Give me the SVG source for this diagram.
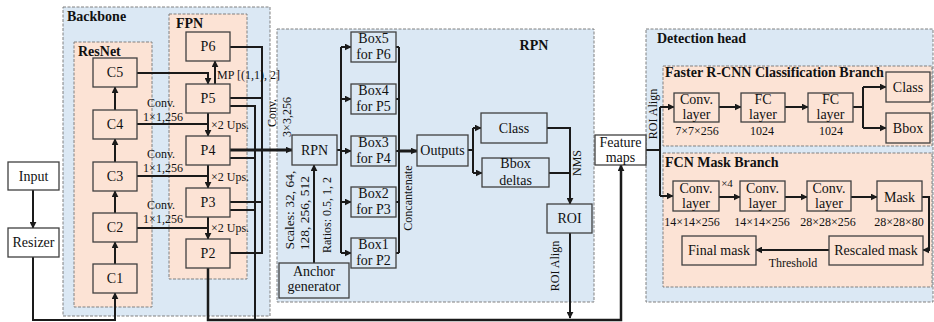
<svg xmlns="http://www.w3.org/2000/svg" width="934" height="322" viewBox="0 0 934 322">
<defs>
<marker id="ah" viewBox="0 0 10 10" refX="9" refY="5" markerWidth="7" markerHeight="7" markerUnits="userSpaceOnUse" orient="auto"><path d="M0,0 L10,5 L0,10 z" fill="#1a1a1a"/></marker>
<style>
.cont{fill:#dbe8f4;stroke:#808080;stroke-width:1;stroke-dasharray:3 1.5}
.pk{fill:#fce3d5;stroke:#808080;stroke-width:1;stroke-dasharray:3 1.5}
.bx{stroke:#404040;stroke-width:1.3}
.pb{fill:#fce3d5}
.bb{fill:#dbe8f4}
.wb{fill:#ffffff}
text{font-family:"Liberation Serif","Times New Roman",serif;fill:#111}
.t14{font-size:14px;text-anchor:middle}
.t12{font-size:12px}
.c12{font-size:12px;text-anchor:middle}
.ttl{font-size:14px;font-weight:bold}
.ln{fill:none;stroke:#1a1a1a;stroke-width:2}
.th{fill:none;stroke:#1a1a1a;stroke-width:3}
.ar{marker-end:url(#ah)}
</style>
</defs>
<g id="containers">
<rect class="cont" x="63" y="7" width="207" height="309"/>
<rect class="pk" x="74" y="42" width="78" height="265"/>
<rect class="pk" x="169" y="14" width="78" height="265"/>
<rect class="cont" x="277" y="29" width="317" height="273"/>
<rect class="cont" x="646" y="29" width="287" height="273"/>
<rect class="pk" x="663" y="66" width="269" height="80"/>
<rect class="pk" x="663" y="153" width="269" height="134"/>
<text class="ttl" x="67" y="21">Backbone</text>
<text class="ttl" x="78" y="56">ResNet</text>
<text class="ttl" x="176" y="28">FPN</text>
<text class="ttl" x="534" y="50" text-anchor="middle">RPN</text>
<text class="ttl" x="657" y="43">Detection head</text>
<text class="ttl" x="665" y="77">Faster R-CNN Classification Branch</text>
<text class="ttl" x="665" y="167">FCN Mask Branch</text>
</g>
<g id="connectors">
<path class="ln ar" d="M33,190 V228"/>
<path class="ln ar" d="M33,257 V320 H115 V293"/>
<path class="ln ar" d="M115,264 V242"/>
<path class="ln ar" d="M115,213 V191"/>
<path class="ln ar" d="M115,162 V139"/>
<path class="ln ar" d="M115,110 V87"/>
<path class="ln ar" d="M137,73 H208 V84"/>
<path class="ln" d="M137,124 H208"/>
<path class="ln ar" d="M208,113 V136"/>
<path class="ln" d="M137,176 H208"/>
<path class="ln ar" d="M208,165 V188"/>
<path class="ln" d="M137,228 H208"/>
<path class="ln ar" d="M208,217 V239"/>
<path class="ln ar" d="M215,84 V61"/>
<path class="ln" d="M230,47 H262 V253 H230"/>
<path class="ln" d="M230,98 H262"/>
<path class="ln" d="M230,202 H262"/>
<path class="ln" d="M230,106 H255 V320"/>
<path class="ln" d="M230,158 H255"/>
<path class="ln" d="M230,210 H255"/>
<path class="th ar" d="M230,150 H292"/>
<path class="ln ar" d="M208,268 V320 H621 V165" style="stroke-width:2.5"/>
<path class="ln ar" d="M314,263 V165"/>
<path class="ln" d="M337,150 H341"/>
<path class="ln" d="M341,47 V253"/>
<path class="ln ar" d="M341,47 H351"/>
<path class="ln ar" d="M341,99 H351"/>
<path class="ln ar" d="M341,151 H351"/>
<path class="ln ar" d="M341,202 H351"/>
<path class="ln ar" d="M341,253 H351"/>
<path class="ln" d="M396,47 H399 M396,99 H399 M396,151 H399 M396,202 H399 M396,253 H399"/>
<path class="ln" d="M399,47 V253"/>
<path class="th ar" d="M399,151 H417"/>
<path class="ln" d="M468,150 H473"/>
<path class="ln" d="M473,128 V173"/>
<path class="ln ar" d="M473,128 H481"/>
<path class="ln ar" d="M473,173 H482"/>
<path class="ln ar" d="M547,128 H570 V204"/>
<path class="ln" d="M549,173 H570"/>
<path class="ln ar" d="M570,233 V318"/>
<path class="ln" d="M646,150 H660"/>
<path class="ln" d="M660,107 V196"/>
<path class="ln ar" d="M660,107 H674"/>
<path class="ln ar" d="M660,196 H673"/>
<path class="ln ar" d="M719,107 H741"/>
<path class="ln ar" d="M785,107 H808"/>
<path class="ln" d="M853,107 H863"/>
<path class="ln" d="M863,87 V128"/>
<path class="ln ar" d="M863,87 H886"/>
<path class="ln ar" d="M863,128 H886"/>
<path class="ln ar" d="M719,197 H740"/>
<path class="ln ar" d="M785,197 H807"/>
<path class="ln ar" d="M851,197 H877"/>
<path class="ln ar" d="M922,197 H929 V250 H923"/>
<path class="ln ar" d="M829,250 H756"/>
</g>
<g id="labels">
<text class="c12" x="161" y="107">Conv.</text>
<text class="c12" x="163" y="121">1×1,256</text>
<text class="c12" x="161" y="158">Conv.</text>
<text class="c12" x="163" y="172">1×1,256</text>
<text class="c12" x="161" y="209">Conv.</text>
<text class="c12" x="163" y="223">1×1,256</text>
<text class="t12" x="211" y="129">×2 Ups.</text>
<text class="t12" x="211" y="181">×2 Ups.</text>
<text class="t12" x="211" y="232">×2 Ups.</text>
<text class="t12" x="217" y="79">MP [(1,1), 2]</text>
<text class="c12" transform="translate(276,113) rotate(-90)">Conv.</text>
<text class="c12" transform="translate(291,117) rotate(-90)">3×3,256</text>
<text class="c12" transform="translate(294,210) rotate(-90)" style="font-size:13.5px">Scales: 32, 64,</text>
<text class="c12" transform="translate(309,213) rotate(-90)" style="font-size:13.5px">128, 256, 512</text>
<text class="c12" transform="translate(331,215) rotate(-90)">Ratios: 0.5, 1, 2</text>
<text class="c12" transform="translate(412,198) rotate(-90)">Concantenate</text>
<text class="c12" transform="translate(581,163) rotate(-90)">NMS</text>
<text class="c12" transform="translate(559,266) rotate(-90)">ROI Align</text>
<text class="c12" transform="translate(657,114) rotate(-90)">ROI Align</text>
<text class="c12" x="697" y="135">7×7×256</text>
<text class="c12" x="762" y="135">1024</text>
<text class="c12" x="831" y="135">1024</text>
<text class="c12" x="692" y="226">14×14×256</text>
<text class="c12" x="762" y="226">14×14×256</text>
<text class="c12" x="828" y="226">28×28×256</text>
<text class="c12" x="899" y="226">28×28×80</text>
<text class="c12" x="727" y="187" style="font-size:11px">×4</text>
<text class="c12" x="793" y="267">Threshold</text>
</g>
<g id="input"><rect class="bx wb" x="8" y="162" width="51" height="28"/><text class="t14" x="33.5" y="181">Input</text></g>
<g id="resizer"><rect class="bx wb" x="8" y="228" width="51" height="29"/><text class="t14" x="33.5" y="247">Resizer</text></g>
<g id="c5"><rect class="bx pb" x="93" y="58" width="44" height="29"/><text class="t14" x="115" y="77">C5</text></g>
<g id="c4"><rect class="bx pb" x="93" y="110" width="44" height="29"/><text class="t14" x="115" y="129">C4</text></g>
<g id="c3"><rect class="bx pb" x="93" y="162" width="44" height="29"/><text class="t14" x="115" y="181">C3</text></g>
<g id="c2"><rect class="bx pb" x="93" y="213" width="44" height="29"/><text class="t14" x="115" y="232">C2</text></g>
<g id="c1"><rect class="bx pb" x="93" y="264" width="44" height="29"/><text class="t14" x="115" y="283">C1</text></g>
<g id="p6"><rect class="bx pb" x="186" y="32" width="44" height="29"/><text class="t14" x="208" y="51">P6</text></g>
<g id="p5"><rect class="bx pb" x="186" y="84" width="44" height="29"/><text class="t14" x="208" y="103">P5</text></g>
<g id="p4"><rect class="bx pb" x="186" y="136" width="44" height="29"/><text class="t14" x="208" y="155">P4</text></g>
<g id="p3"><rect class="bx pb" x="186" y="188" width="44" height="29"/><text class="t14" x="208" y="207">P3</text></g>
<g id="p2"><rect class="bx pb" x="186" y="239" width="44" height="29"/><text class="t14" x="208" y="258">P2</text></g>
<g id="rpn"><rect class="bx bb" x="292" y="135" width="45" height="30"/><text class="t14" x="314.5" y="155">RPN</text></g>
<g id="anchor"><rect class="bx bb" x="279" y="263" width="70" height="35"/><text class="t14" x="314" y="276">Anchor</text><text class="t14" x="314" y="291">generator</text></g>
<g id="box5"><rect class="bx bb" x="351" y="32" width="45" height="30"/><text class="t14" x="373.5" y="43">Box5</text><text class="t14" x="373.5" y="59">for P6</text></g>
<g id="box4"><rect class="bx bb" x="351" y="84" width="45" height="30"/><text class="t14" x="373.5" y="95">Box4</text><text class="t14" x="373.5" y="111">for P5</text></g>
<g id="box3"><rect class="bx bb" x="351" y="136" width="45" height="30"/><text class="t14" x="373.5" y="147">Box3</text><text class="t14" x="373.5" y="163">for P4</text></g>
<g id="box2"><rect class="bx bb" x="351" y="187" width="45" height="30"/><text class="t14" x="373.5" y="198">Box2</text><text class="t14" x="373.5" y="214">for P3</text></g>
<g id="box1"><rect class="bx bb" x="351" y="238" width="45" height="30"/><text class="t14" x="373.5" y="249">Box1</text><text class="t14" x="373.5" y="265">for P2</text></g>
<g id="outputs"><rect class="bx bb" x="417" y="135" width="51" height="31"/><text class="t14" x="442.5" y="155">Outputs</text></g>
<g id="rpn-class"><rect class="bx bb" x="481" y="113" width="66" height="30"/><text class="t14" x="514" y="133">Class</text></g>
<g id="bbox-deltas"><rect class="bx bb" x="482" y="158" width="67" height="29"/><text class="t14" x="515.5" y="168">Bbox</text><text class="t14" x="515.5" y="185">deltas</text></g>
<g id="roi"><rect class="bx bb" x="547" y="204" width="45" height="29"/><text class="t14" x="569.5" y="223">ROI</text></g>
<g id="feature-maps"><rect class="bx wb" x="595" y="135" width="51" height="30"/><text class="t14" x="620.5" y="147">Feature</text><text class="t14" x="620.5" y="162">maps</text></g>
<g id="head-conv"><rect class="bx pb" x="674" y="93" width="45" height="29"/><text class="t14" x="696.5" y="104">Conv.</text><text class="t14" x="696.5" y="119">layer</text></g>
<g id="fc1"><rect class="bx pb" x="741" y="93" width="44" height="29"/><text class="t14" x="763" y="104">FC</text><text class="t14" x="763" y="119">layer</text></g>
<g id="fc2"><rect class="bx pb" x="808" y="93" width="45" height="29"/><text class="t14" x="830.5" y="104">FC</text><text class="t14" x="830.5" y="119">layer</text></g>
<g id="head-class"><rect class="bx pb" x="886" y="72" width="44" height="30"/><text class="t14" x="908" y="92">Class</text></g>
<g id="head-bbox"><rect class="bx pb" x="886" y="113" width="44" height="30"/><text class="t14" x="908" y="133">Bbox</text></g>
<g id="mask-conv1"><rect class="bx pb" x="673" y="181" width="46" height="30"/><text class="t14" x="696" y="193">Conv.</text><text class="t14" x="696" y="208">layer</text></g>
<g id="mask-conv2"><rect class="bx pb" x="740" y="181" width="45" height="30"/><text class="t14" x="762.5" y="193">Conv.</text><text class="t14" x="762.5" y="208">layer</text></g>
<g id="mask-conv3"><rect class="bx pb" x="807" y="181" width="44" height="30"/><text class="t14" x="829" y="193">Conv.</text><text class="t14" x="829" y="208">layer</text></g>
<g id="mask"><rect class="bx pb" x="877" y="181" width="45" height="30"/><text class="t14" x="899.5" y="202">Mask</text></g>
<g id="rescaled-mask"><rect class="bx pb" x="829" y="236" width="94" height="29"/><text class="t14" x="876" y="255">Rescaled mask</text></g>
<g id="final-mask"><rect class="bx pb" x="682" y="236" width="74" height="29"/><text class="t14" x="719" y="255">Final mask</text></g>
</svg>
